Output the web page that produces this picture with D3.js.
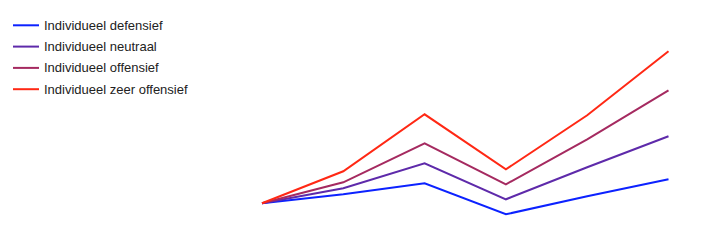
<!DOCTYPE html>
<html>
<head>
<meta charset="utf-8">
<script src="https://cdn.jsdelivr.net/npm/d3@7"></script>
<style>
    body { margin: 0; background: #fff; }
    svg { display: block; }
</style>
</head>
<body>
<div id="chart"></div>
<script>
const width = 715;
const height = 245;

// series names + colours
const seriesNames = ["Individueel defensief", "Individueel neutraal", "Individueel offensief", "Individueel zeer offensief"];
const seriesColors = ["#0c22ff", "#5e2aaa", "#a52a60", "#ff2814"];

// six steps, values relative to the start point
const steps = [0, 1, 2, 3, 4, 5];
const defensief = [0, 9, 20, -11, 7, 24];
const neutraal = [0, 15, 40, 4, 36, 67];
const offensief = [0, 21, 60, 19, 64, 113];
const zeerOffensief = [0, 32, 89, 34, 88, 152];

const allSeries = [defensief, neutraal, offensief, zeerOffensief];

const svg = d3.select("#chart")
    .append("svg")
    .attr("width", width)
    .attr("height", height);

const x = d3.scalePoint()
    .domain(steps)
    .range([262, 668.5]);

const y = d3.scaleLinear()
    .domain([0, 152])
    .range([203.3, 51.3]);

const line = d3.line()
    .x((d, i) => x(steps[i]))
    .y(d => y(d));

// draw lines, red on top
svg.append("g")
    .selectAll("path")
    .data(allSeries)
    .enter()
    .append("path")
    .attr("d", d => line(d))
    .attr("fill", "none")
    .attr("stroke", (d, i) => seriesColors[i])
    .attr("stroke-width", 2)
    .attr("stroke-linejoin", "miter");

// legend
const legend = svg.append("g")
    .selectAll("g")
    .data(seriesNames)
    .enter()
    .append("g")
    .attr("transform", (d, i) => `translate(13, ${25.3 + i * 21.3})`);

legend.append("line")
    .attr("x1", 0)
    .attr("x2", 26)
    .attr("stroke", (d, i) => seriesColors[i])
    .attr("stroke-width", 2);

legend.append("text")
    .attr("x", 31)
    .attr("dy", "0.35em")
    .attr("font-family", "Liberation Sans, Arial, sans-serif")
    .attr("font-size", 13)
    .attr("fill", "#222")
    .text(d => d);
</script>
</body>
</html>
